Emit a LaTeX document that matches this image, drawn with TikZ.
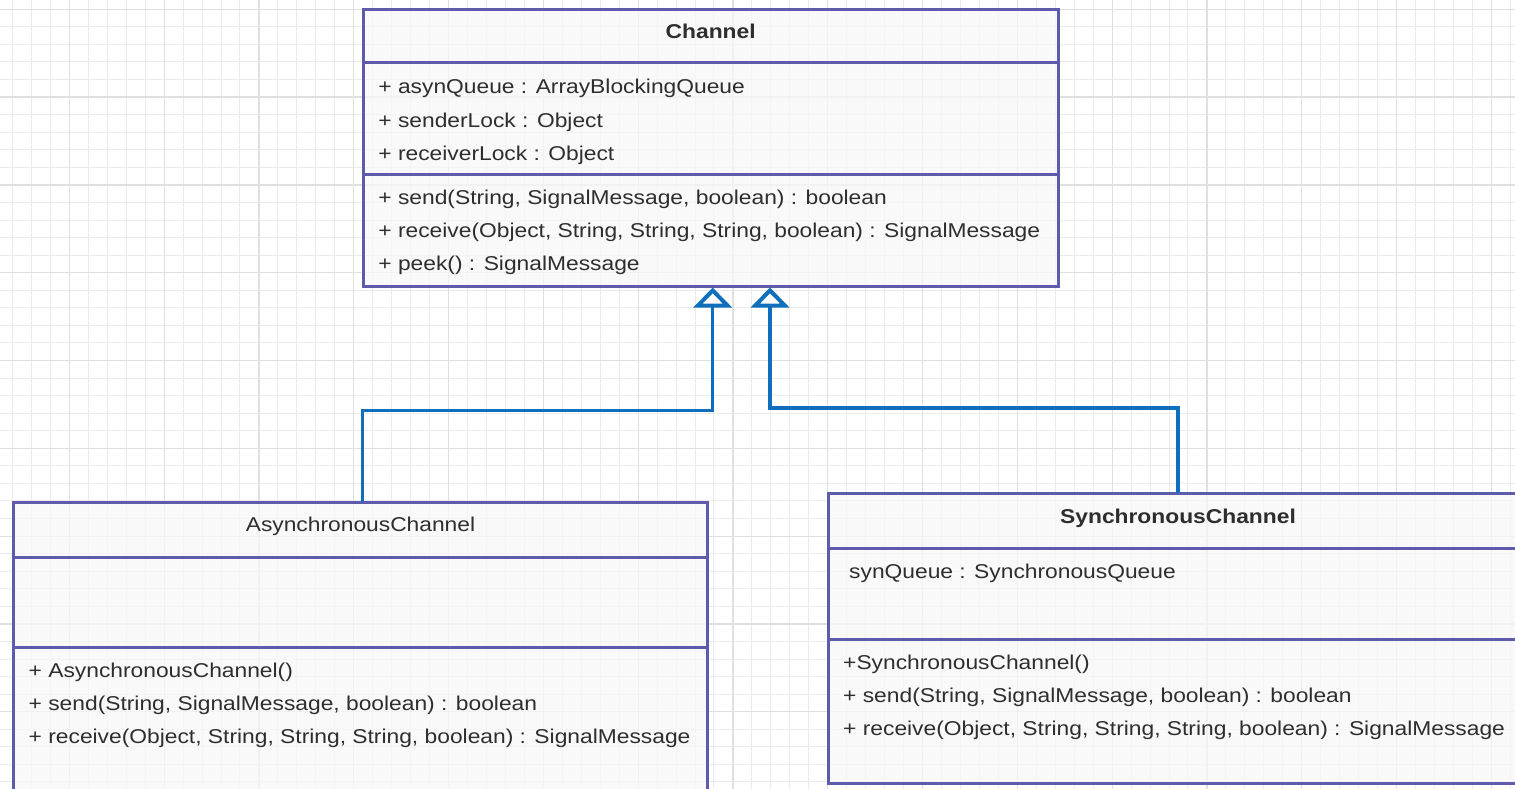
\documentclass[tikz,border=0pt]{standalone}
\usepackage{fontspec}
\setmainfont{Liberation Sans}[FakeStretch=1.14]
\usetikzlibrary{arrows.meta,positioning}

\definecolor{Cumlpurple}{HTML}{5E5AAC}
\definecolor{Cconnblue}{HTML}{0F6FBD}
\definecolor{Cboxfill}{HTML}{F8F8F8}
\definecolor{Cgridminor}{HTML}{EBEBEB}
\definecolor{Cgridmajor}{HTML}{E0E0E0}
\definecolor{Ctextgray}{HTML}{2E2E2E}

\tikzset{
  compart/.style={draw=Cumlpurple, line width=3pt, fill=Cboxfill, fill opacity=.75,
    inner sep=0pt, outer sep=0pt, anchor=north},
  classname/.style={anchor=base, inner sep=0pt, text=Ctextgray,
    font=\fontsize{20}{24}\selectfont},
  member/.style={anchor=base west, inner sep=0pt, text=Ctextgray,
    font=\fontsize{20}{24}\selectfont},
  realize/.style={draw=Cconnblue, line width=3.5pt, shorten >=1.5pt,
    -{Triangle[width=38pt,length=20pt,line width=4pt,fill=white]}},
}

\begin{document}
\begin{tikzpicture}[x=1pt,y=-1pt]
  \useasboundingbox (0,0) rectangle (1515,789);
  \clip (0,0) rectangle (1515,789);
  \fill[white] (0,0) rectangle (1515,789);

  % background grid
  \foreach \i in {0,...,81}
    \draw[Cgridminor, line width=1pt] ({-6.5+18.96*\i},0) -- ++(0,789);
  \foreach \j in {0,...,46}
    \draw[Cgridminor, line width=1pt] (0,{-8.26+17.56*\j}) -- ++(1515,0);
  \foreach \i in {0,...,15}
    \draw[Cgridmajor, line width=1.2pt] ({69.3+94.8*\i},0) -- ++(0,789);
  \foreach \j in {0,...,8}
    \draw[Cgridmajor, line width=1.2pt] (0,{9.3+87.8*\j}) -- ++(1515,0);

  % Channel
  \node[compart, minimum width=695pt, minimum height=53pt] (chanhead) at (710.7,10) {};
  \node[compart, minimum width=695pt, minimum height=111pt, below=0pt of chanhead] (chanattr) {};
  \node[compart, minimum width=695pt, minimum height=112pt, below=0pt of chanattr] (chanops) {};
  \node[classname] (channame) at ([yshift=-2.5pt]chanhead.center) {\bfseries Channel};
  \foreach \txt [count=\i] in {{+ asynQueue : ArrayBlockingQueue}, {+ senderLock : Object},
      {+ receiverLock : Object}}
    \node[member] (chanattrtxt\i) at ([shift={(15,{31+33.3*(\i-1)})}]chanattr.north west) {\txt};
  \foreach \txt [count=\i] in {{+ send(String, SignalMessage, boolean) : boolean},
      {+ receive(Object, String, String, String, boolean) : SignalMessage},
      {+ peek() : SignalMessage}}
    \node[member] (chanopstxt\i) at ([shift={(15,{30+33.3*(\i-1)})}]chanops.north west) {\txt};

  % AsynchronousChannel
  \node[compart, minimum width=694pt, minimum height=55pt] (asynhead) at (360.5,502) {};
  \node[compart, minimum width=694pt, minimum height=90pt, below=0pt of asynhead] (asynattr) {};
  \node[compart, minimum width=694pt, minimum height=160pt, below=0pt of asynattr] (asynops) {};
  \node[classname] (asynname) at ([yshift=-1.5pt]asynhead.center) {AsynchronousChannel};
  \foreach \txt [count=\i] in {{+ AsynchronousChannel()},
      {+ send(String, SignalMessage, boolean) : boolean},
      {+ receive(Object, String, String, String, boolean) : SignalMessage}}
    \node[member] (asynopstxt\i) at ([shift={(15,{30+33.3*(\i-1)})}]asynops.north west) {\txt};

  % SynchronousChannel
  \node[compart, minimum width=700pt, minimum height=55pt] (synhead) at (1178,493) {};
  \node[compart, minimum width=700pt, minimum height=91pt, below=0pt of synhead] (synattr) {};
  \node[compart, minimum width=700pt, minimum height=144pt, below=0pt of synattr] (synops) {};
  \node[classname] (synname) at ([yshift=-2.5pt]synhead.center) {\bfseries SynchronousChannel};
  \node[member] (synattrtxt1) at ([shift={(21,30)}]synattr.north west) {synQueue : SynchronousQueue};
  \foreach \txt [count=\i] in {{+SynchronousChannel()},
      {+ send(String, SignalMessage, boolean) : boolean},
      {+ receive(Object, String, String, String, boolean) : SignalMessage}}
    \node[member] (synopstxt\i) at ([shift={(15,{30+33.3*(\i-1)})}]synops.north west) {\txt};

  % generalisation
  \draw[realize] ([xshift=2pt]asynhead.north) -- ++(0,-91.5) -| ([xshift=2pt]chanops.south);
  \draw[realize] (synhead.north) -- ++(0,-85) -| ([xshift=59.3pt]chanops.south);
\end{tikzpicture}
\end{document}
